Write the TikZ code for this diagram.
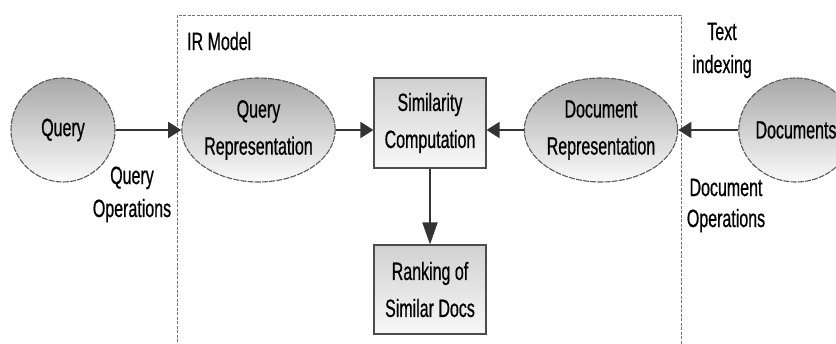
\documentclass[tikz,border=0pt]{standalone}
\usepackage{fontspec}
\setmainfont{Liberation Sans}[FakeStretch=0.64, FakeBold=0.6]
\usetikzlibrary{arrows.meta,shapes.geometric,shadows}

\tikzset{
  every node/.style={font=\fontsize{25}{37}\selectfont, text=black},
  oval/.style={ellipse, inner sep=0pt, draw=black!65,
    line width=1.1pt, dash pattern=on 6pt off 1.2pt,
    top color=black!34, bottom color=black!2, shading angle=0,
    align=center},
  proc/.style={rectangle, inner sep=0pt, draw=black!70, line width=1.1pt,
    top color=black!18, bottom color=black!3, align=center,
    minimum width=112pt, minimum height=90pt,
    drop shadow={shadow xshift=1.2pt, shadow yshift=-1.2pt, fill=black!55, opacity=1}},
  flow/.style={draw=black!80, line width=1.8pt,
    -{Triangle[length=13pt,width=16pt]}},
  note/.style={align=center, inner sep=0pt, font=\fontsize{25}{33}\selectfont},
  frame/.style={draw=black!55, line width=0.8pt, dash pattern=on 3pt off 1.5pt}
}

\begin{document}
\begin{tikzpicture}[x=1pt, y=-1pt]
  \useasboundingbox (0,0) rectangle (836,343);
  \clip (0,0) rectangle (836,343);

  % dashed boundary of the IR model (open at the bottom)
  \draw[frame] (177,360) -- (177,15) -- (681,15) -- (681,360);
  \node[anchor=base west, inner sep=0pt] (irm) at (187,50) {IR Model};

  % nodes
  \node[oval, minimum width=104pt, minimum height=104pt] (q) at (63,130) {Query};
  \node[oval, minimum width=147pt, minimum height=104pt] (qr) at (258.5,130) {Query\\Representation};
  \node[proc] (sim) at (430,123) {Similarity\\Computation};
  \node[proc, minimum height=89pt] (rank) at (430,289.5) {Ranking of\\Similar Docs};
  \node[oval, minimum width=146pt, minimum height=104pt] (dr) at (601,130) {Document\\Representation};
  \node[oval, minimum width=104pt, minimum height=104pt] (docs) at (796,130) {Documents};

  % connectors
  \draw[flow] (q.east) -- (qr.west);
  \draw[flow] (qr.east) -- (qr.east -| sim.west);
  \draw[flow] (dr.west) -- (dr.west -| sim.east);
  \draw[flow] (docs.west) -- (dr.east);
  \draw[flow, -{Triangle[length=22pt,width=15pt]}] (sim.south) -- (rank.north);

  % operation labels (base anchor sits on the last line)
  \node[note, anchor=base] (qop) at (132,217) {Query\\Operations};
  \node[note, anchor=base] (ti) at (722,73) {Text\\indexing};
  \node[note, anchor=base, font=\fontsize{25}{31}\selectfont] (dop) at (726,227) {Document\\Operations};
\end{tikzpicture}
\end{document}
